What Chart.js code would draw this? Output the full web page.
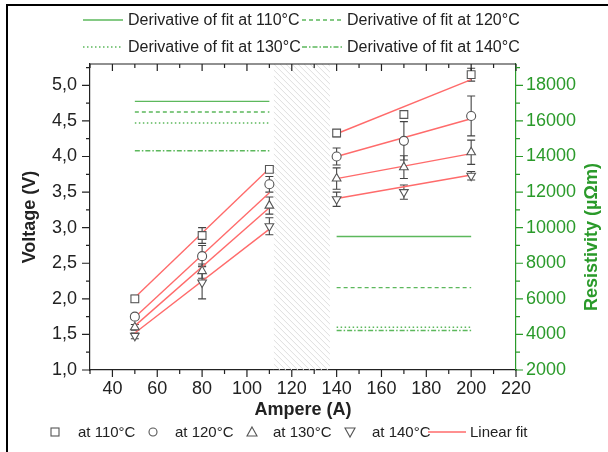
<!DOCTYPE html>
<html>
<head>
<meta charset="utf-8">
<script src="https://cdn.jsdelivr.net/npm/chart.js@4.4.1/dist/chart.umd.min.js"></script>
<style>
    body { margin: 0; background: #fff; font-family: "Liberation Sans", Arial, sans-serif; }
    #wrap { position: relative; width: 608px; height: 452px; overflow: hidden; }
    #frame { position: absolute; left: 6px; top: 4px; width: 640px; height: 480px; border-top: 2px solid #000; border-left: 2px solid #000; }
    #chart { position: absolute; left: 0; top: 0; }
    .leg { position: absolute; white-space: nowrap; color: #222; line-height: 18px; }
    .leg svg { position: absolute; top: 0; }
    .leg span { position: absolute; top: 0; }
    #rtitle { position: absolute; left: 591px; top: 237px; transform: translate(-50%, -50%) rotate(-90deg);
              font-weight: bold; font-size: 18px; color: #2a9a2a; white-space: nowrap; }
</style>
</head>
<body>
<div id="wrap">
    <canvas id="chart" width="608" height="452"></canvas>
    <div id="frame"></div>
    <div id="legTop"></div>
    <div id="legBottom"></div>
    <div id="rtitle">Resistivity (µΩm)</div>
</div>
<script>
// Datos del grafico
const currents = [50, 80, 110, 140, 170, 200];
const temps = ['110°C', '120°C', '130°C', '140°C'];

const volt110 = [2.00, 2.89, 3.82, 4.33, 4.59, 5.15];
const volt120 = [1.75, 2.60, 3.61, 4.00, 4.22, 4.57];
const volt130 = [1.60, 2.39, 3.31, 3.69, 3.85, 4.06];
const volt140 = [1.48, 2.23, 3.02, 3.40, 3.50, 3.73];

const err110 = [0.05, 0.11, 0.04, 0.05, 0.05, 0.09];
const err120 = [0.04, 0.15, 0.11, 0.12, 0.27, 0.28];
const err130 = [0.04, 0.10, 0.12, 0.15, 0.16, 0.17];
const err140 = [0.04, 0.23, 0.12, 0.10, 0.10, 0.06];

// Ajuste lineal: extremos [50 A, 110 A, 140 A, 200 A]
const fitX = [50, 110, 140, 200];
const fit110 = [2.02, 3.83, 4.32, 5.08];
const fit120 = [1.74, 3.49, 4.00, 4.53];
const fit130 = [1.62, 3.28, 3.69, 4.04];
const fit140 = [1.52, 2.98, 3.41, 3.74];

// Derivada del ajuste (eje derecho): [tramo bajo, tramo alto]
const deriv110 = [17100, 9500];
const deriv120 = [16500, 6630];
const deriv130 = [15880, 4400];
const deriv140 = [14320, 4220];

const gapRange = [112, 137];

const xTicks = [40, 60, 80, 100, 120, 140, 160, 180, 200, 220];
const vTicks = [1.0, 1.5, 2.0, 2.5, 3.0, 3.5, 4.0, 4.5, 5.0];
const rTicks = [2000, 4000, 6000, 8000, 10000, 12000, 14000, 16000, 18000];

// Estilos
const markerColor = '#555';
const fitColor = '#ff6b6b';
const derivColor = '#5cb85c';
const axisGreen = '#2a9a2a';
const textColor = '#222';
const pointStyles = [
    { style: 'rect', rot: 0, r: 5.5 },
    { style: 'circle', rot: 0, r: 4.5 },
    { style: 'triangle', rot: 0, r: 5 },
    { style: 'triangle', rot: 180, r: 5 }
];
const derivDash = [[], [4, 3], [1.5, 2.5], [5, 2, 1.5, 2]];

const volts = [volt110, volt120, volt130, volt140];
const errs = [err110, err120, err130, err140];
const fits = [fit110, fit120, fit130, fit140];
const derivs = [deriv110, deriv120, deriv130, deriv140];

// Datasets
const datasets = [];
volts.forEach((v, i) => {
    datasets.push({
        label: 'at ' + temps[i],
        data: currents.map((c, k) => ({ x: c, y: v[k] })),
        errors: errs[i],
        yAxisID: 'y',
        showLine: false,
        pointStyle: pointStyles[i].style,
        rotation: pointStyles[i].rot,
        pointRadius: pointStyles[i].r,
        pointBackgroundColor: '#fff',
        pointBorderColor: markerColor,
        pointBorderWidth: 1.1
    });
});
fits.forEach(f => {
    [[0, 1], [2, 3]].forEach(([a, b]) => {
        datasets.push({
            data: [{ x: fitX[a], y: f[a] }, { x: fitX[b], y: f[b] }],
            yAxisID: 'y',
            showLine: true,
            borderColor: fitColor,
            borderWidth: 1.4,
            pointRadius: 0
        });
    });
});
derivs.forEach((d, i) => {
    [[0, 1], [2, 3]].forEach(([a, b], j) => {
        datasets.push({
            data: [{ x: fitX[a], y: d[j] }, { x: fitX[b], y: d[j] }],
            yAxisID: 'y2',
            showLine: true,
            borderColor: derivColor,
            borderWidth: 1.4,
            borderDash: derivDash[i],
            pointRadius: 0
        });
    });
});

// Zona rayada entre tramos
const hatchPlugin = {
    id: 'hatch',
    beforeDatasetsDraw(chart) {
        const { ctx, chartArea: a, scales: { x } } = chart;
        const x0 = x.getPixelForValue(gapRange[0]);
        const x1 = x.getPixelForValue(gapRange[1]);
        const h = a.bottom - a.top;
        ctx.save();
        ctx.beginPath();
        ctx.rect(x0, a.top, x1 - x0, h);
        ctx.clip();
        ctx.strokeStyle = '#dedede';
        ctx.lineWidth = 1;
        for (let k = -h; k < x1 - x0; k += 6) {
            ctx.beginPath();
            ctx.moveTo(x0 + k, a.top);
            ctx.lineTo(x0 + k + h, a.bottom);
            ctx.stroke();
        }
        ctx.restore();
    }
};

// Barras de error
const errorPlugin = {
    id: 'errorBars',
    beforeDatasetsDraw(chart) {
        const { ctx, scales: { x, y } } = chart;
        ctx.save();
        ctx.strokeStyle = '#444';
        ctx.lineWidth = 1.1;
        chart.data.datasets.forEach(ds => {
            if (!ds.errors) return;
            ds.data.forEach((p, k) => {
                const px = x.getPixelForValue(p.x);
                const yTop = y.getPixelForValue(p.y + ds.errors[k]);
                const yBot = y.getPixelForValue(p.y - ds.errors[k]);
                ctx.beginPath();
                ctx.moveTo(px, yTop); ctx.lineTo(px, yBot);
                ctx.moveTo(px - 4, yTop); ctx.lineTo(px + 4, yTop);
                ctx.moveTo(px - 4, yBot); ctx.lineTo(px + 4, yBot);
                ctx.stroke();
            });
        });
        ctx.restore();
    }
};

// Marcas de los ejes (mayores y menores) y borde superior
function minors(ticks) {
    const out = [];
    for (let i = 0; i < ticks.length - 1; i++) out.push((ticks[i] + ticks[i + 1]) / 2);
    out.push(ticks[ticks.length - 1] + (ticks[1] - ticks[0]) / 2);
    return out;
}

const tickPlugin = {
    id: 'tickMarks',
    afterDraw(chart) {
        const { ctx, chartArea: a, scales: { x, y, y2 } } = chart;
        ctx.save();
        ctx.lineWidth = 1.2;
        ctx.strokeStyle = '#222';
        ctx.beginPath();
        ctx.moveTo(a.left, a.top); ctx.lineTo(a.right, a.top);
        const xMin = [30].concat(minors(xTicks)).filter(v => v < 220);
        xTicks.forEach(v => {
            const px = x.getPixelForValue(v);
            ctx.moveTo(px, a.bottom); ctx.lineTo(px, a.bottom + 7);
            ctx.moveTo(px, a.top); ctx.lineTo(px, a.top + 7);
        });
        xMin.forEach(v => {
            const px = x.getPixelForValue(v);
            ctx.moveTo(px, a.bottom); ctx.lineTo(px, a.bottom + 4);
            ctx.moveTo(px, a.top); ctx.lineTo(px, a.top + 4);
        });
        vTicks.forEach(v => {
            const py = y.getPixelForValue(v);
            ctx.moveTo(a.left, py); ctx.lineTo(a.left - 8, py);
        });
        minors(vTicks).forEach(v => {
            const py = y.getPixelForValue(v);
            ctx.moveTo(a.left, py); ctx.lineTo(a.left - 4, py);
        });
        ctx.stroke();

        ctx.strokeStyle = axisGreen;
        ctx.beginPath();
        rTicks.forEach(v => {
            const py = y2.getPixelForValue(v);
            ctx.moveTo(a.right, py); ctx.lineTo(a.right + 7, py);
        });
        minors(rTicks).forEach(v => {
            const py = y2.getPixelForValue(v);
            ctx.moveTo(a.right, py); ctx.lineTo(a.right + 4, py);
        });
        ctx.stroke();
        ctx.restore();
    }
};

const tickFont = { family: '"Liberation Sans", Arial, sans-serif', size: 18 };
const titleFont = { family: '"Liberation Sans", Arial, sans-serif', size: 18, weight: 'bold' };

new Chart(document.getElementById('chart'), {
    type: 'scatter',
    data: { datasets },
    options: {
        responsive: false,
        animation: false,
        layout: { padding: { top: 64, right: 0, bottom: 32, left: 0 } },
        plugins: { legend: { display: false }, tooltip: { enabled: false } },
        scales: {
            x: {
                type: 'linear', position: 'bottom', min: 30, max: 220,
                grid: { display: false },
                border: { display: true, color: '#222', width: 1.2 },
                afterBuildTicks: s => { s.ticks = xTicks.map(v => ({ value: v })); },
                afterFit: s => { s.height = 50; },
                ticks: { font: tickFont, color: textColor, padding: 0, autoSkip: false, maxRotation: 0 },
                title: { display: true, text: 'Ampere (A)', font: titleFont, color: textColor, padding: { top: 0, bottom: -1 } }
            },
            y: {
                type: 'linear', position: 'left', min: 1, max: 5.3,
                grid: { display: false },
                border: { display: true, color: '#222', width: 1.2 },
                afterBuildTicks: s => { s.ticks = vTicks.map(v => ({ value: v })); },
                afterFit: s => { s.width = 90; },
                ticks: {
                    font: tickFont, color: textColor, padding: 5,
                    callback: v => v.toFixed(1).replace('.', ',')
                },
                title: { display: true, text: 'Voltage (V)', font: titleFont, color: textColor, padding: { top: 19, bottom: 0 } }
            },
            y2: {
                type: 'linear', position: 'right', min: 2000, max: 19200,
                grid: { display: false },
                border: { display: true, color: axisGreen, width: 1.2 },
                afterBuildTicks: s => { s.ticks = rTicks.map(v => ({ value: v })); },
                afterFit: s => { s.width = 92; },
                ticks: { font: tickFont, color: axisGreen, padding: 2, callback: v => String(v) }
            }
        }
    },
    plugins: [hatchPlugin, errorPlugin, tickPlugin]
});

// Leyendas en HTML
function lineSvg(color, dash) {
    return `<svg width="40" height="18"><line x1="0" y1="9" x2="40" y2="9" stroke="${color}" stroke-width="1.4" stroke-dasharray="${dash.join(' ')}"/></svg>`;
}
function markerSvg(i) {
    const c = markerColor;
    let shape = '';
    if (i === 0) shape = `<rect x="5" y="5" width="8" height="8" fill="#fff" stroke="${c}" stroke-width="1.1"/>`;
    if (i === 1) shape = `<circle cx="9" cy="9" r="4" fill="#fff" stroke="${c}" stroke-width="1.1"/>`;
    if (i === 2) shape = `<polygon points="9,4 14,13 4,13" fill="#fff" stroke="${c}" stroke-width="1.1"/>`;
    if (i === 3) shape = `<polygon points="4,5 14,5 9,14" fill="#fff" stroke="${c}" stroke-width="1.1"/>`;
    return `<svg width="18" height="18">${shape}</svg>`;
}

const topPos = [[83, 11], [302, 11], [83, 38], [302, 38]];
document.getElementById('legTop').innerHTML = temps.map((t, i) => `
    <div class="leg" style="left:${topPos[i][0]}px; top:${topPos[i][1]}px; font-size:16px;">
        ${lineSvg(derivColor, derivDash[i])}
        <span style="left:45px;">Derivative of fit at ${t}</span>
    </div>`).join('');

const botMarker = [46, 144, 243, 341];
const botText = [78, 175, 273, 372];
let bottom = temps.map((t, i) => `
    <div class="leg" style="left:${botMarker[i]}px; top:423px; font-size:15px;">${markerSvg(i)}</div>
    <div class="leg" style="left:${botText[i]}px; top:423px; font-size:15px;"><span>at ${t}</span></div>`).join('');
bottom += `
    <div class="leg" style="left:428px; top:423px; font-size:15px;">
        <svg width="38" height="18"><line x1="0" y1="9" x2="38" y2="9" stroke="${fitColor}" stroke-width="1.4"/></svg>
        <span style="left:42px;">Linear fit</span>
    </div>`;
document.getElementById('legBottom').innerHTML = bottom;
</script>
</body>
</html>
